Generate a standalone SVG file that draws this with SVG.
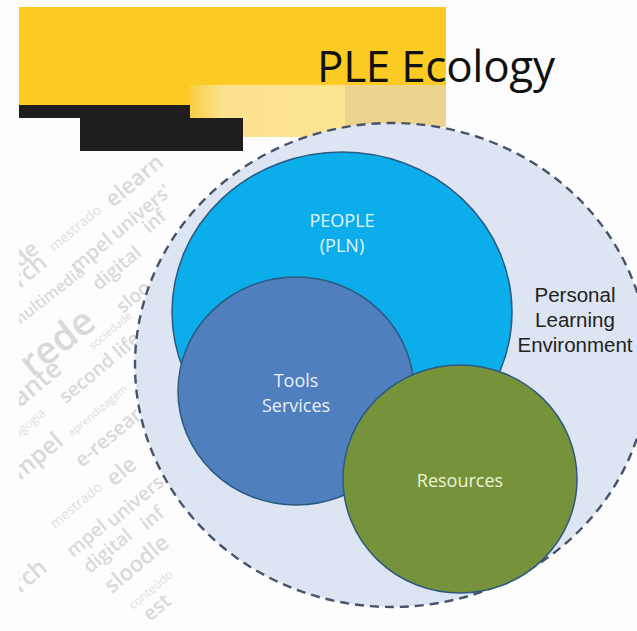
<svg xmlns="http://www.w3.org/2000/svg" width="637" height="631" viewBox="0 0 637 631">
  <defs>
    <linearGradient id="paleBand" x1="0" y1="0" x2="1" y2="0">
      <stop offset="0" stop-color="#f9cf45"/>
      <stop offset="0.22" stop-color="#fce28e"/>
      <stop offset="1" stop-color="#fce491"/>
    </linearGradient>
    <clipPath id="cloudClip">
      <rect x="19" y="152" width="240" height="479"/>
    </clipPath>
  </defs>
  <style>
    .cloud text { font-family: "Open Sans", "DejaVu Sans", sans-serif; font-weight: 600; fill: #d9d9d9; }
    .cloud text.sm { font-weight: 400; fill: #dedede; }
    .lbl { font-family: "Open Sans", "DejaVu Sans", sans-serif; font-size: 18px; text-anchor: middle; }
    .side { font-family: "Liberation Sans", Arial, sans-serif; font-size: 20.5px; fill: #222222; text-anchor: middle; }
    .ring { stroke: #2c5a82; stroke-width: 1.5; }
  </style>

  <rect width="637" height="631" fill="#fdfdfd"/>

  <!-- header band -->
  <g id="header">
    <rect x="190" y="85" width="155" height="52" fill="url(#paleBand)"/>
    <rect x="345" y="85" width="101" height="42" fill="#ecd38e"/>
    <path d="M19 7 H446 V85 H190 V105 H19 Z" fill="#fbca23"/>
    <path d="M19 105 H190 V118 H243 V151 H80 V118 H19 Z" fill="#201d1e"/>
    <text x="317" y="82" font-family="'Open Sans', 'DejaVu Sans', sans-serif" font-size="44" fill="#111111" textLength="238">PLE Ecology</text>
  </g>

  <!-- faded tag cloud behind the environment -->
  <g class="cloud" clip-path="url(#cloudClip)">
    <text font-size="20" transform="translate(12 245) rotate(-40)">e</text>
    <text font-size="22" transform="translate(20 268) rotate(-40)">de</text>
    <text class="sm" font-size="14" transform="translate(54 252) rotate(-40)">mestrado</text>
    <text font-size="22" transform="translate(113 208) rotate(-40)">elearn</text>
    <text font-size="24" transform="translate(20 289) rotate(-40)">rch</text>
    <text font-size="20" transform="translate(77 274) rotate(-40)">mpel</text>
    <text font-size="19" transform="translate(117 240) rotate(-40)">univers'</text>
    <text font-size="16" transform="translate(16 328) rotate(-38)">multimedia</text>
    <text font-size="19" transform="translate(99 291) rotate(-40)">digital</text>
    <text font-size="19" transform="translate(149 234) rotate(-40)">inf</text>
    <text font-size="38" transform="translate(32 378) rotate(-38)">rede</text>
    <text class="sm" font-size="11" transform="translate(93 350) rotate(-40)">sociedade</text>
    <text font-size="19" transform="translate(123 314) rotate(-40)">sloo</text>
    <text font-size="26" transform="translate(20 408) rotate(-40)">ante</text>
    <text font-size="19" transform="translate(66 404) rotate(-40)">second life</text>
    <text class="sm" font-size="12" transform="translate(18 438) rotate(-40)">agogia</text>
    <text class="sm" font-size="11" transform="translate(72 437) rotate(-40)">aprendizagem</text>
    <text font-size="24" transform="translate(20 481) rotate(-40)">mpel</text>
    <text font-size="20" transform="translate(82 468) rotate(-40)">e-resear</text>
    <text class="sm" font-size="14" transform="translate(55 529) rotate(-40)">mestrado</text>
    <text font-size="22" transform="translate(114 487) rotate(-40)">ele</text>
    <text font-size="24" transform="translate(20 594) rotate(-40)">rch</text>
    <text font-size="19" transform="translate(73 558) rotate(-40)">mpel</text>
    <text font-size="19" transform="translate(113 528) rotate(-40)">univers</text>
    <text font-size="19" transform="translate(90 574) rotate(-40)">digital</text>
    <text font-size="19" transform="translate(147 531) rotate(-40)">inf</text>
    <text font-size="22" transform="translate(112 594) rotate(-40)">sloodle</text>
    <text class="sm" font-size="12" transform="translate(133 610) rotate(-40)">conteúdo</text>
    <text font-size="20" transform="translate(150 622) rotate(-40)">est</text>
  </g>

  <!-- outer environment -->
  <g id="ple">
    <ellipse cx="392" cy="365" rx="257" ry="242" fill="#dce5f1" stroke="#46536a" stroke-width="2.4" stroke-dasharray="9 6"/>
    <text class="side" x="575" y="302">Personal</text>
    <text class="side" x="575" y="327">Learning</text>
    <text class="side" x="575" y="352">Environment</text>
  </g>

  <g id="people">
    <ellipse class="ring" cx="342" cy="312" rx="170" ry="160" fill="#0badea"/>
    <text class="lbl" x="342" y="227" fill="#e3f5ff">PEOPLE</text>
    <text class="lbl" x="342" y="252" fill="#e3f5ff">(PLN)</text>
  </g>

  <g id="tools">
    <ellipse class="ring" cx="296" cy="391" rx="118" ry="114" fill="#4f7fbd"/>
    <text class="lbl" x="296" y="387" fill="#eaf0f8">Tools</text>
    <text class="lbl" x="296" y="412" fill="#eaf0f8">Services</text>
  </g>

  <g id="resources">
    <ellipse class="ring" cx="460" cy="479" rx="117" ry="114" fill="#76923b" stroke="#35606e"/>
    <text class="lbl" x="460" y="487" fill="#eef3d6">Resources</text>
  </g>
</svg>
